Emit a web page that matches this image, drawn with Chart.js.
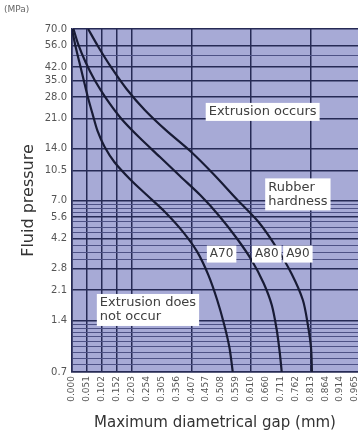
<!DOCTYPE html>
<html lang="en">
<head>
<meta charset="UTF-8">
<script src="https://cdn.jsdelivr.net/npm/chart.js"></script>
<title>Extrusion</title>
<style>
  html, body { margin: 0; padding: 0; background: #fff; }
</style>
</head>
<body>
<canvas id="grafico" width="358" height="434"></canvas>
<script>
// x axis (mm)
const xTickValues = [0, 0.051, 0.102, 0.152, 0.203, 0.254, 0.305, 0.356, 0.407, 0.457, 0.508, 0.559, 0.610, 0.660, 0.711, 0.762, 0.813, 0.864, 0.914, 0.965];
const xGridValues = [0, 0.051, 0.102, 0.152, 0.203, 0.407, 0.610, 0.813];

// y axis (MPa)
const yTickLabels = [70, 56, 42, 35, 28, 21, 14, 10.5, 7, 5.6, 4.2, 2.8, 2.1, 1.4, 0.7];
const yGridValues = [70, 56, 49, 42, 35, 28, 21, 14, 10.5, 7, 6.65, 6.3, 5.95, 5.6, 5.25, 4.9, 4.55, 4.2, 3.85, 3.5, 3.15, 2.8, 2.1,
  1.4, 1.33, 1.26, 1.19, 1.12, 1.05, 0.98, 0.91, 0.84, 0.77, 0.7];

// curves
const a70Gap   = [0, 0.011, 0.025, 0.039, 0.053, 0.070, 0.087, 0.111, 0.145, 0.197, 0.255, 0.317, 0.379, 0.427, 0.465, 0.495, 0.519, 0.537, 0.548];
const a70Press = [70, 56.5, 44.9, 35.8, 28.5, 22.4, 17.8, 14.4, 11.7, 9.35, 7.53, 6.0, 4.58, 3.51, 2.57, 1.84, 1.32, 0.966, 0.7];

const a80Gap   = [0.005, 0.022, 0.046, 0.077, 0.118, 0.166, 0.228, 0.300, 0.368, 0.437, 0.502, 0.561, 0.612, 0.653, 0.681, 0.698, 0.708, 0.715];
const a80Press = [70, 56.5, 44.9, 35.3, 27.3, 21.2, 16.4, 12.55, 9.72, 7.53, 5.69, 4.23, 3.15, 2.31, 1.72, 1.23, 0.916, 0.7];

const a90Gap   = [0.055, 0.090, 0.135, 0.186, 0.248, 0.320, 0.403, 0.482, 0.561, 0.636, 0.698, 0.749, 0.787, 0.804, 0.815, 0.818];
const a90Press = [70, 55.0, 41.5, 31.3, 23.6, 18.0, 13.6, 9.99, 7.14, 5.24, 3.70, 2.61, 1.84, 1.32, 0.966, 0.7];

// text boxes (data coordinates)
const notas = [
  { x: 0.650, y: 23.0, text: ['Extrusion occurs'], size: 13 },
  { x: 0.770, y: 7.6, text: ['Rubber', 'hardness'], size: 13 },
  { x: 0.510, y: 3.41, text: ['A70'], size: 12 },
  { x: 0.664, y: 3.41, text: ['A80'], size: 12 },
  { x: 0.770, y: 3.41, text: ['A90'], size: 12 },
  { x: 0.259, y: 1.61, text: ['Extrusion does', 'not occur'], size: 13 }
];

function pontos(gap, press) {
  return gap.map((g, i) => ({ x: g, y: press[i] }));
}

const fonte = '"DejaVu Sans", Arial, sans-serif';
const corGrade = '#262a55';

function semPadding(scale) {
  scale.paddingLeft = 0;
  scale.paddingRight = 0;
  scale.paddingTop = 0;
  scale.paddingBottom = 0;
}

const fundo = {
  id: 'fundo',
  beforeDraw(chart) {
    const { ctx, chartArea: a } = chart;
    ctx.save();
    ctx.fillStyle = '#a7aad6';
    ctx.fillRect(a.left, a.top, a.right - a.left, a.bottom - a.top);
    ctx.restore();
  },
  afterDatasetsDraw(chart) {
    const { ctx, scales: { x, y } } = chart;
    ctx.save();
    notas.forEach(n => {
      ctx.font = n.size + 'px ' + fonte;
      const px = x.getPixelForValue(n.x);
      const py = y.getPixelForValue(n.y);
      const lh = n.size + 1;
      const w = Math.max(...n.text.map(l => ctx.measureText(l).width)) + 6;
      const h = n.text.length * lh + 4;
      ctx.fillStyle = '#ffffff';
      ctx.fillRect(px - w / 2, py - h / 2, w, h);
      ctx.fillStyle = '#404040';
      ctx.textAlign = 'left';
      ctx.textBaseline = 'middle';
      n.text.forEach((l, i) => ctx.fillText(l, px - w / 2 + 3, py - h / 2 + 2 + lh / 2 + i * lh));
    });
    ctx.font = '9px ' + fonte;
    ctx.fillStyle = '#666';
    ctx.textAlign = 'left';
    ctx.textBaseline = 'middle';
    ctx.fillText('(MPa)', 4, 10);
    ctx.restore();
  }
};

const serie = (label, data) => ({
  label: label,
  data: data,
  borderColor: '#181b35',
  borderWidth: 2.2,
  pointRadius: 0,
  fill: false,
  tension: 0.3
});

new Chart(document.getElementById('grafico'), {
  type: 'line',
  data: {
    datasets: [
      serie('A70', pontos(a70Gap, a70Press)),
      serie('A80', pontos(a80Gap, a80Press)),
      serie('A90', pontos(a90Gap, a90Press))
    ]
  },
  options: {
    responsive: false,
    animation: false,
    layout: { padding: { top: 29, right: 0, left: 0, bottom: 0 } },
    plugins: {
      legend: { display: false },
      tooltip: { enabled: false }
    },
    scales: {
      x: {
        type: 'linear',
        min: 0,
        max: 0.975,
        afterBuildTicks: scale => { scale.ticks = xTickValues.map(v => ({ value: v })); },
        afterFit: scale => { scale.height = 62; semPadding(scale); },
        ticks: {
          autoSkip: false,
          minRotation: 90,
          maxRotation: 90,
          padding: 4,
          color: '#555',
          font: { family: fonte, size: 9 },
          callback: v => v.toFixed(3)
        },
        grid: {
          drawTicks: false,
          color: c => xGridValues.includes(c.tick && c.tick.value) ? corGrade : 'rgba(0,0,0,0)',
          lineWidth: 1.5
        },
        border: { color: corGrade, width: 1.5 },
        title: {
          display: true,
          text: 'Maximum diametrical gap (mm)',
          color: '#333',
          font: { family: fonte, size: 15 },
          padding: { top: 0, bottom: 2 }
        }
      },
      y: {
        type: 'logarithmic',
        min: 0.7,
        max: 70,
        afterBuildTicks: scale => { scale.ticks = yGridValues.map(v => ({ value: v })); },
        afterFit: scale => { scale.width = 72; semPadding(scale); },
        ticks: {
          autoSkip: false,
          padding: 5,
          color: '#555',
          font: { family: fonte, size: 10 },
          callback: v => yTickLabels.includes(v) ? v.toFixed(1) : ''
        },
        grid: {
          drawTicks: false,
          color: c => yTickLabels.includes(c.tick && c.tick.value) ? corGrade : '#4d5185',
          lineWidth: c => yTickLabels.includes(c.tick && c.tick.value) ? 1.6 : 1
        },
        border: { color: corGrade, width: 1.5 },
        title: {
          display: true,
          text: 'Fluid pressure',
          color: '#333',
          font: { family: fonte, size: 16 },
          padding: { top: 19, bottom: 0 }
        }
      }
    }
  },
  plugins: [fundo]
});
</script>
</body>
</html>
